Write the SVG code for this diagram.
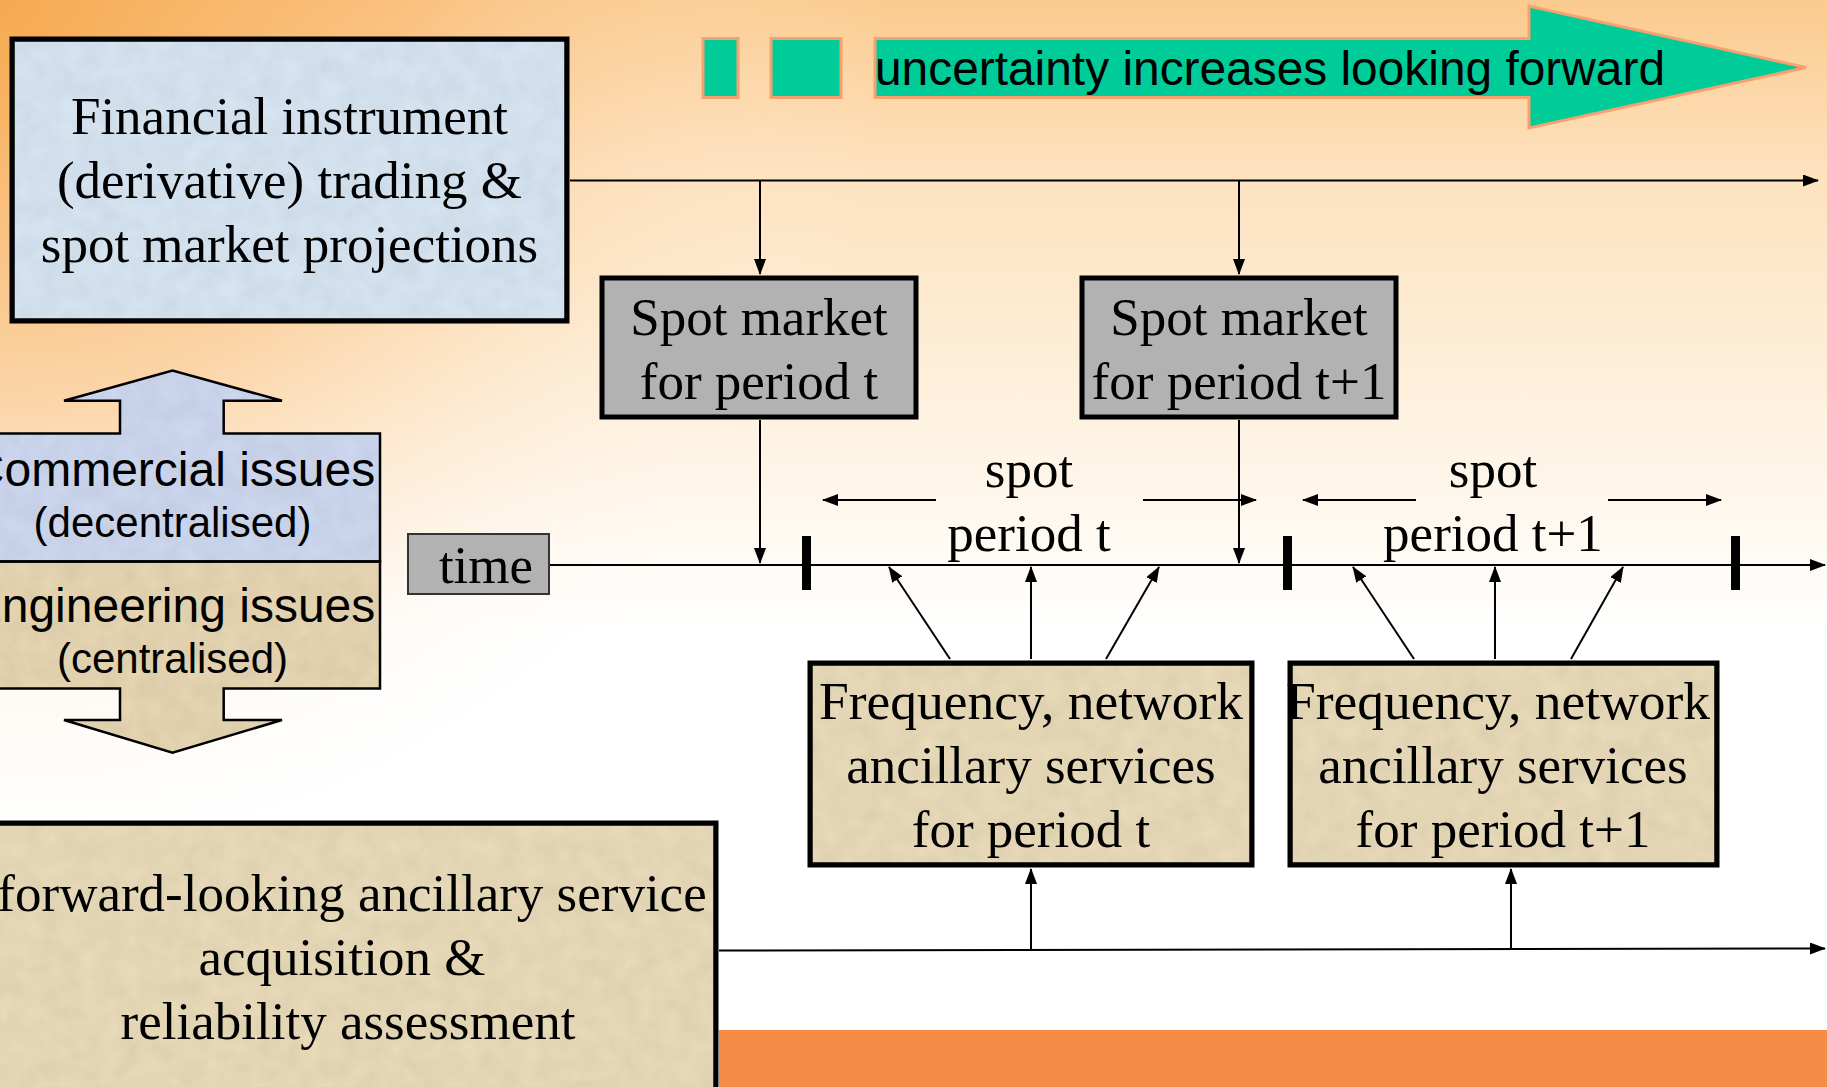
<svg xmlns="http://www.w3.org/2000/svg" width="1827" height="1087" viewBox="0 0 1827 1087">
<defs>
<linearGradient id="bg" x1="0" y1="0" x2="0" y2="1">
<stop offset="0" stop-color="#FBCA8E"/>
<stop offset="0.16" stop-color="#FDE2BE"/>
<stop offset="0.4" stop-color="#FEF3E3"/>
<stop offset="0.58" stop-color="#FFFFFF"/>
<stop offset="1" stop-color="#FFFFFF"/>
</linearGradient>
<radialGradient id="leftTint" cx="0" cy="0" r="900" gradientUnits="userSpaceOnUse">
<stop offset="0" stop-color="#F6A548" stop-opacity="0.9"/>
<stop offset="0.45" stop-color="#F8B468" stop-opacity="0.45"/>
<stop offset="1" stop-color="#FFFFFF" stop-opacity="0"/>
</radialGradient>
<marker id="ah" viewBox="0 0 16 12" refX="15" refY="6" markerWidth="16" markerHeight="12" markerUnits="userSpaceOnUse" orient="auto">
<path d="M0,0 L16,6 L0,12 Z" fill="#000"/>
</marker>
<filter id="tex" x="0" y="0" width="1" height="1">
<feTurbulence type="fractalNoise" baseFrequency="0.05" numOctaves="3" seed="3" result="n"/>
<feColorMatrix in="n" type="matrix" values="0 0 0 0 0  0 0 0 0 0  0 0 0 0 0  0 0 0 0.15 0" result="m"/>
<feComposite in="m" in2="SourceGraphic" operator="atop"/>
</filter>
</defs>
<style>
.serif{font-family:"Liberation Serif","Times New Roman",serif;font-size:53px;fill:#000;text-anchor:middle}
.sans{font-family:"Liberation Sans",Arial,sans-serif;fill:#000;text-anchor:middle}
.box{stroke:#000;stroke-width:5}
.blue{fill:#D9E7F5}
.beige{fill:#EBDDBB}
.gray{fill:#B2B2B2}
.ln{stroke:#000;stroke-width:2;fill:none}
.tick{fill:#000}
.unc{fill:#00CC99;stroke:#F7A070;stroke-width:3}
</style>

<!-- background -->
<rect x="0" y="0" width="1827" height="1087" fill="url(#bg)"/>
<rect x="0" y="0" width="1827" height="1087" fill="url(#leftTint)"/>
<rect x="719" y="1030" width="1108" height="57" fill="#F58B45"/>

<!-- uncertainty arrow -->
<g id="uncertainty">
<rect class="unc" x="703" y="38.5" width="35" height="59"/>
<rect class="unc" x="771" y="38.5" width="70" height="59"/>
<path class="unc" d="M875,38.5 H1529 V6 L1806,67.5 L1529,128 V97.5 H875 Z"/>
<text class="sans" x="875" y="85" font-size="48" style="text-anchor:start" textLength="790" lengthAdjust="spacingAndGlyphs">uncertainty increases looking forward</text>
</g>

<!-- Financial box -->
<g id="financial">
<rect class="box blue" x="12" y="39" width="555" height="282" filter="url(#tex)"/>
<rect x="12" y="39" width="555" height="282" fill="none" stroke="#000" stroke-width="5"/>
<text class="serif" x="289.5" y="134">Financial instrument</text>
<text class="serif" x="289.5" y="198">(derivative) trading &amp;</text>
<text class="serif" x="289.5" y="262">spot market projections</text>
</g>

<!-- double arrow commercial/engineering -->
<g id="issues">
<path d="M-10,433.5 H120 V400.8 H64 L172.5,370.5 L282,400.8 H223.7 V433.5 H380 V561.6 H-10 Z" fill="#CFDAF2" filter="url(#tex)"/>
<path d="M-10,561.6 H380 V688.6 H223.7 V720 H282 L172.5,752.7 L64,720 H120 V688.6 H-10 Z" fill="#E9D8B4" filter="url(#tex)"/>
<path d="M-10,433.5 H120 V400.8 H64 L172.5,370.5 L282,400.8 H223.7 V433.5 H380 V561.6 H-10 Z" fill="none" stroke="#000" stroke-width="2.5"/>
<path d="M-10,561.6 H380 V688.6 H223.7 V720 H282 L172.5,752.7 L64,720 H120 V688.6 H-10 Z" fill="none" stroke="#000" stroke-width="2.5"/>
<text class="sans" x="172.5" y="486" font-size="48">Commercial issues</text>
<text class="sans" x="172.5" y="537" font-size="42">(decentralised)</text>
<text class="sans" x="172.5" y="622" font-size="48">Engineering issues</text>
<text class="sans" x="172.5" y="673" font-size="42">(centralised)</text>
</g>

<!-- Spot market boxes -->
<g id="spot-t">
<rect class="box gray" x="602" y="278" width="314" height="139"/>
<text class="serif" x="759" y="335">Spot market</text>
<text class="serif" x="759" y="399">for period t</text>
</g>
<g id="spot-t1">
<rect class="box gray" x="1082" y="278" width="314" height="139"/>
<text class="serif" x="1239" y="335">Spot market</text>
<text class="serif" x="1239" y="399">for period t+1</text>
</g>

<!-- time box -->
<g id="time">
<rect x="408" y="534" width="141" height="60" fill="#B2B2B2" stroke="#333" stroke-width="2"/>
<text class="serif" x="486" y="583">time</text>
</g>

<!-- spot period labels -->
<g id="label-t">
<text class="serif" x="1029" y="487">spot</text>
<text class="serif" x="1029" y="551">period t</text>
</g>
<g id="label-t1">
<text class="serif" x="1493" y="487">spot</text>
<text class="serif" x="1493" y="551">period t+1</text>
</g>

<!-- Frequency boxes -->
<g id="freq-t">
<rect class="box beige" x="810" y="663" width="442" height="202" filter="url(#tex)"/>
<rect x="810" y="663" width="442" height="202" fill="none" stroke="#000" stroke-width="5"/>
<text class="serif" x="1031" y="719" textLength="424" lengthAdjust="spacingAndGlyphs">Frequency, network</text>
<text class="serif" x="1031" y="783">ancillary services</text>
<text class="serif" x="1031" y="847">for period t</text>
</g>
<g id="freq-t1">
<rect class="box beige" x="1290" y="663" width="427" height="202" filter="url(#tex)"/>
<rect x="1290" y="663" width="427" height="202" fill="none" stroke="#000" stroke-width="5"/>
<text class="serif" x="1498" y="719" textLength="424" lengthAdjust="spacingAndGlyphs">Frequency, network</text>
<text class="serif" x="1503" y="783">ancillary services</text>
<text class="serif" x="1503" y="847">for period t+1</text>
</g>

<!-- Forward-looking box -->
<g id="forward">
<rect class="box beige" x="-10" y="823" width="726" height="280" filter="url(#tex)"/>
<rect x="-10" y="823" width="726" height="280" fill="none" stroke="#000" stroke-width="5"/>
<text class="serif" x="352" y="911">forward-looking ancillary service</text>
<text class="serif" x="342" y="975">acquisition &amp;</text>
<text class="serif" x="348" y="1039">reliability assessment</text>
</g>

<!-- connectors -->
<g id="connectors">
<line class="ln" x1="570" y1="180.5" x2="1818" y2="180.5" marker-end="url(#ah)"/>
<line class="ln" x1="760" y1="180.5" x2="760" y2="274" marker-end="url(#ah)"/>
<line class="ln" x1="1239" y1="180.5" x2="1239" y2="274" marker-end="url(#ah)"/>
<line class="ln" x1="550" y1="565" x2="1825" y2="565" marker-end="url(#ah)"/>
<line class="ln" x1="760" y1="420" x2="760" y2="563" marker-end="url(#ah)"/>
<line class="ln" x1="1239" y1="420" x2="1239" y2="563" marker-end="url(#ah)"/>
<rect class="tick" x="802" y="536" width="9" height="54"/>
<rect class="tick" x="1283" y="536" width="9" height="54"/>
<rect class="tick" x="1731" y="536" width="9" height="54"/>
<line class="ln" x1="936" y1="500" x2="823" y2="500" marker-end="url(#ah)"/>
<line class="ln" x1="1143" y1="500" x2="1256" y2="500" marker-end="url(#ah)"/>
<line class="ln" x1="1416" y1="500" x2="1303" y2="500" marker-end="url(#ah)"/>
<line class="ln" x1="1608" y1="500" x2="1721" y2="500" marker-end="url(#ah)"/>
<line class="ln" x1="950" y1="659" x2="889" y2="567" marker-end="url(#ah)"/>
<line class="ln" x1="1031" y1="659" x2="1031" y2="567" marker-end="url(#ah)"/>
<line class="ln" x1="1106" y1="659" x2="1159" y2="567" marker-end="url(#ah)"/>
<line class="ln" x1="1414" y1="659" x2="1353" y2="567" marker-end="url(#ah)"/>
<line class="ln" x1="1495" y1="659" x2="1495" y2="567" marker-end="url(#ah)"/>
<line class="ln" x1="1571" y1="659" x2="1623" y2="567" marker-end="url(#ah)"/>
<line class="ln" x1="719" y1="950.5" x2="1825" y2="948.5" marker-end="url(#ah)"/>
<line class="ln" x1="1031" y1="950" x2="1031" y2="869" marker-end="url(#ah)"/>
<line class="ln" x1="1511" y1="949" x2="1511" y2="869" marker-end="url(#ah)"/>
</g>
</svg>
